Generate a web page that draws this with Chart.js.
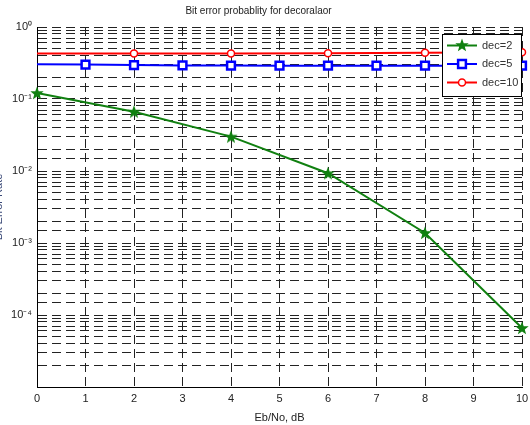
<!DOCTYPE html>
<html>
<head>
<meta charset="utf-8">
<script src="https://cdn.jsdelivr.net/npm/chart.js@4.4.1/dist/chart.umd.min.js"></script>
<style>
  html, body { margin: 0; padding: 0; background: #fff; }
  #wrap { width: 530px; height: 425px; }
</style>
</head>
<body>
<div id="wrap"><canvas id="chartBer"></canvas></div>
<script>
const snrDec2 = [0, 2, 4, 6, 8, 10];
const berDec2 = [0.121, 0.0667, 0.030, 0.0093, 0.00138, 0.000066];
const snrDec5 = [0, 1, 2, 3, 4, 5, 6, 7, 8, 9, 10];
const berDec5 = [0.303, 0.301, 0.296, 0.293, 0.291, 0.290, 0.290, 0.290, 0.290, 0.290, 0.290];
const snrDec10 = [0, 2, 4, 6, 8, 10];
const berDec10 = [0.43, 0.43, 0.43, 0.432, 0.438, 0.445];
const seriesLabels = ['dec=2', 'dec=5', 'dec=10'];
const yDecades = [1, 0.1, 0.01, 0.001, 0.0001];
const yTickLabels = ['10\u2070', '10\u207B\u00B9', '10\u207B\u00B2', '10\u207B\u00B3', '10\u207B\u2074'];

const FONT = "'Liberation Sans', Arial, sans-serif";
const GREEN = 'rgb(16, 128, 16)';

// filled five-point star, like matlab's pentagram marker
const starImg = (() => {
    const c = document.createElement('canvas');
    c.width = 14;
    c.height = 14;
    const g = c.getContext('2d');
    g.fillStyle = GREEN;
    g.beginPath();
    for (let i = 0; i < 10; i++) {
        const r = i % 2 === 0 ? 7 : 2.9;
        const a = -Math.PI / 2 + (i * Math.PI) / 5;
        g.lineTo(7 + r * Math.cos(a), 7.5 + r * Math.sin(a));
    }
    g.closePath();
    g.fill();
    return c;
})();

const pts = (xs, ys) => xs.map((x, i) => ({ x, y: ys[i] }));

const legendBox = {
    id: 'legendBox',
    afterDatasetsDraw(chart) {
        const { ctx } = chart;
        ctx.save();
        ctx.fillStyle = '#fff';
        ctx.strokeStyle = '#000';
        ctx.lineWidth = 1;
        ctx.fillRect(442.5, 34.5, 79, 62);
        ctx.strokeRect(442.5, 34.5, 79, 62);
        chart.data.datasets.forEach((ds, i) => {
            const y = 45.5 + i * 18.5;
            ctx.strokeStyle = ds.borderColor;
            ctx.lineWidth = 2;
            ctx.beginPath();
            ctx.moveTo(447, y);
            ctx.lineTo(477, y);
            ctx.stroke();
            if (ds.pointStyle === starImg) {
                ctx.drawImage(starImg, 462 - 7, y - 7.5);
            } else {
                ctx.fillStyle = '#fff';
                ctx.lineWidth = ds.pointBorderWidth;
                Chart.helpers.drawPoint(ctx, { pointStyle: ds.pointStyle, radius: ds.legendRadius, rotation: 0, borderWidth: ds.pointBorderWidth }, 462, y);
            }
            ctx.fillStyle = '#333';
            ctx.font = '11px ' + FONT;
            ctx.textBaseline = 'middle';
            ctx.textAlign = 'left';
            ctx.fillText(ds.label, 482, y);
        });
        ctx.restore();
    },
};

new Chart(document.getElementById('chartBer'), {
    type: 'line',
    data: {
        datasets: [
            {
                label: seriesLabels[0],
                data: pts(snrDec2, berDec2),
                borderColor: GREEN,
                backgroundColor: GREEN,
                borderWidth: 2,
                pointStyle: starImg,
                pointRadius: 6,
                clip: 8,
            },
            {
                label: seriesLabels[1],
                data: pts(snrDec5, berDec5),
                borderColor: '#0000ff',
                pointBackgroundColor: '#fff',
                pointBorderColor: '#0000ff',
                borderWidth: 2,
                pointStyle: 'rect',
                pointRadius: (c) => (c.dataIndex === 0 ? 0 : 5.5),
                legendRadius: 5.5,
                pointBorderWidth: 2.5,
                clip: 8,
            },
            {
                label: seriesLabels[2],
                data: pts(snrDec10, berDec10),
                borderColor: '#ff0000',
                pointBackgroundColor: '#fff',
                pointBorderColor: '#ff0000',
                borderWidth: 2,
                pointStyle: 'circle',
                pointRadius: (c) => (c.dataIndex === 0 ? 0 : 3.5),
                legendRadius: 3.5,
                pointBorderWidth: 1.5,
                clip: 8,
            },
        ],
    },
    plugins: [legendBox],
    options: {
        responsive: true,
        maintainAspectRatio: false,
        animation: false,
        layout: { padding: { left: -8, right: 5, top: 0, bottom: 0 } },
        plugins: {
            legend: { display: false },
            tooltip: { enabled: false },
            title: {
                display: true,
                text: 'Bit error probablity for decoralaor',
                color: '#222',
                font: { family: FONT, size: 10, weight: 'normal' },
                padding: { top: 5, bottom: 10 },
            },
        },
        scales: {
            x: {
                type: 'linear',
                min: 0,
                max: 10,
                ticks: { stepSize: 1, color: '#222', padding: 5, font: { family: FONT, size: 11 } },
                grid: { color: '#222', lineWidth: 1, drawTicks: false },
                border: { color: '#000', width: 1, dash: [9, 5] },
                title: { display: true, text: 'Eb/No, dB', color: '#222', font: { family: FONT, size: 11 }, padding: { top: 1, bottom: 0 } },
                afterFit: (s) => {
                    s.height = 38;
                    s.paddingLeft = 0;
                    s.paddingRight = 0;
                },
            },
            y: {
                type: 'logarithmic',
                min: 0.00001,
                max: 1,
                ticks: {
                    autoSkip: false,
                    color: '#222',
                    padding: 5,
                    font: { family: FONT, size: 11 },
                    callback: (v) => {
                        const i = yDecades.findIndex((d) => Math.abs(d - v) / d < 1e-6);
                        return i >= 0 ? yTickLabels[i] : '';
                    },
                },
                grid: { color: '#222', lineWidth: 1, drawTicks: false },
                border: { color: '#000', width: 1, dash: [9, 5] },
                title: { display: true, text: 'Bit Error Rate', color: '#3b4a78', font: { family: FONT, size: 11 }, padding: 0 },
                afterFit: (s) => {
                    s.width = 45;
                    s.paddingTop = 0;
                    s.paddingBottom = 0;
                },
            },
        },
    },
});
</script>
</body>
</html>
